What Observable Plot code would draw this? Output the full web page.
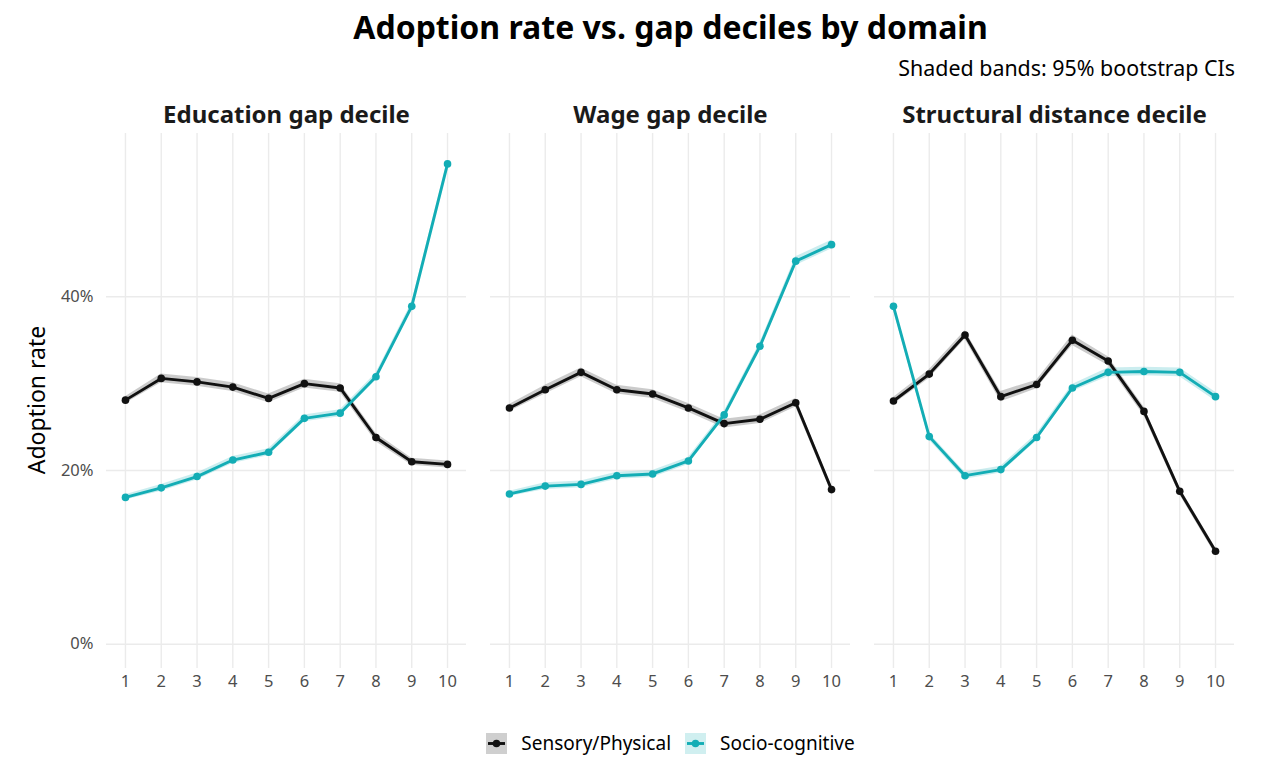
<!DOCTYPE html>
<html><head><meta charset="utf-8">
<script src="https://cdn.jsdelivr.net/npm/d3@7"></script>
<script src="https://cdn.jsdelivr.net/npm/@observablehq/plot@0.6"></script>
<style>
body{margin:0;background:#fff;font-family:"Noto Sans",sans-serif;width:1262px;height:782px;position:relative;overflow:hidden}
#title{position:absolute;top:7px;left:105px;width:1131px;text-align:center;font-weight:bold;font-size:32px;line-height:40px;color:#000;z-index:2}
#subtitle{position:absolute;top:54px;right:27px;font-size:21.4px;line-height:28px;color:#000;z-index:2}
#ylabel{position:absolute;left:36px;top:400px;transform:translate(-50%,-50%) rotate(-90deg);font-size:23px;line-height:28px;white-space:nowrap;color:#000;z-index:2}
#chart{position:absolute;top:90px;left:0;z-index:1}
#legend{position:absolute;top:731px;left:105px;width:1131px;display:flex;justify-content:center;align-items:center;font-size:19px;line-height:24px;color:#000;z-index:2}
.item{display:flex;align-items:center;margin:0 7px}
.item svg{margin-right:14px}
</style></head><body>
<div id="title">Adoption rate vs. gap deciles by domain</div>
<div id="subtitle">Shaded bands: 95% bootstrap CIs</div>
<div id="chart"></div>
<div id="ylabel">Adoption rate</div>
<div id="legend"></div>
<script>
const deciles = [1,2,3,4,5,6,7,8,9,10];
const domains = ["Education gap decile","Wage gap decile","Structural distance decile"];
const seriesNames = ["Sensory/Physical","Socio-cognitive"];
const seriesColors = ["#111111","#13adb5"];

// Education gap decile
const sensoryEdu = [0.281,0.306,0.302,0.296,0.283,0.300,0.295,0.238,0.210,0.207];
const socioEdu   = [0.169,0.180,0.193,0.212,0.221,0.260,0.266,0.308,0.389,0.553];
// Wage gap decile
const sensoryWage = [0.272,0.293,0.313,0.293,0.288,0.272,0.254,0.259,0.278,0.178];
const socioWage   = [0.173,0.182,0.184,0.194,0.196,0.211,0.264,0.343,0.441,0.460];
// Structural distance decile
const sensoryStruct = [0.280,0.311,0.356,0.285,0.299,0.350,0.326,0.268,0.176,0.107];
const socioStruct   = [0.389,0.239,0.194,0.201,0.238,0.295,0.313,0.314,0.313,0.285];

// 95% bootstrap CI half-widths (estimated)
const ciSensoryEdu = [0.004,0.005,0.005,0.005,0.005,0.005,0.005,0.005,0.004,0.004];
const ciSocioEdu   = [0.003,0.004,0.004,0.004,0.004,0.004,0.004,0.004,0.004,0.004];
const ciSensoryWage = [0.004,0.005,0.005,0.005,0.005,0.005,0.005,0.005,0.005,0.004];
const ciSocioWage   = [0.003,0.004,0.004,0.004,0.004,0.004,0.004,0.004,0.005,0.005];
const ciSensoryStruct = [0.004,0.005,0.005,0.006,0.005,0.006,0.005,0.005,0.004,0.004];
const ciSocioStruct   = [0.004,0.004,0.004,0.004,0.004,0.004,0.005,0.005,0.005,0.005];

const groups = [
  [domains[0], seriesNames[0], sensoryEdu, ciSensoryEdu],
  [domains[0], seriesNames[1], socioEdu, ciSocioEdu],
  [domains[1], seriesNames[0], sensoryWage, ciSensoryWage],
  [domains[1], seriesNames[1], socioWage, ciSocioWage],
  [domains[2], seriesNames[0], sensoryStruct, ciSensoryStruct],
  [domains[2], seriesNames[1], socioStruct, ciSocioStruct]
];
const rows = [];
for (const [dom, ser, vals, ci] of groups) {
  vals.forEach((v, i) => rows.push({domain: dom, series: ser, decile: deciles[i], value: v, lo: v - ci[i], hi: v + ci[i]}));
}

const chart = Plot.plot({
  width: 1262, height: 613,
  marginLeft: 105, marginRight: 27, marginTop: 43, marginBottom: 35,
  style: {fontFamily: "Noto Sans", background: "white", overflow: "visible"},
  fx: {domain: domains, padding: 0.0625, label: null},
  x: {domain: [0.47, 10.53]},
  y: {domain: [-0.028, 0.588]},
  color: {domain: seriesNames, range: seriesColors},
  marks: [
    Plot.gridX(deciles, {stroke: "#ebebeb", strokeOpacity: 1, strokeWidth: 1.4}),
    Plot.gridY([0, 0.2, 0.4], {stroke: "#ebebeb", strokeOpacity: 1, strokeWidth: 1.4}),
    Plot.axisY([0, 0.2, 0.4], {tickFormat: d3.format(".0%"), tickSize: 0, tickPadding: 13, fontSize: 16.5, color: "#4d4d4d", label: null}),
    Plot.axisX(deciles, {tickSize: 0, tickPadding: 7, fontSize: 16.5, color: "#4d4d4d", label: null}),
    Plot.axisFx({anchor: "top", label: null, tickSize: 0, tickPadding: 11, fontSize: 24, fontWeight: "bold", color: "#1a1a1a"}),
    Plot.areaY(rows, {x: "decile", y1: "lo", y2: "hi", fx: "domain", z: "series", fill: "series", fillOpacity: 0.22}),
    Plot.line(rows, {x: "decile", y: "value", fx: "domain", z: "series", stroke: "series", strokeWidth: 2.9}),
    Plot.dot(rows, {x: "decile", y: "value", fx: "domain", fill: "series", r: 3.8})
  ]
});
document.getElementById("chart").appendChild(chart);

const legend = document.getElementById("legend");
seriesNames.forEach((name, i) => {
  const item = document.createElement("div");
  item.className = "item";
  const c = seriesColors[i];
  item.innerHTML = `<svg width="21" height="21"><rect width="21" height="21" fill="${c}" fill-opacity="0.2"/><line x1="2" x2="19" y1="10.5" y2="10.5" stroke="${c}" stroke-width="2.9"/><circle cx="10.5" cy="10.5" r="3.8" fill="${c}"/></svg><span>${name}</span>`;
  legend.appendChild(item);
});
</script>
</body></html>
